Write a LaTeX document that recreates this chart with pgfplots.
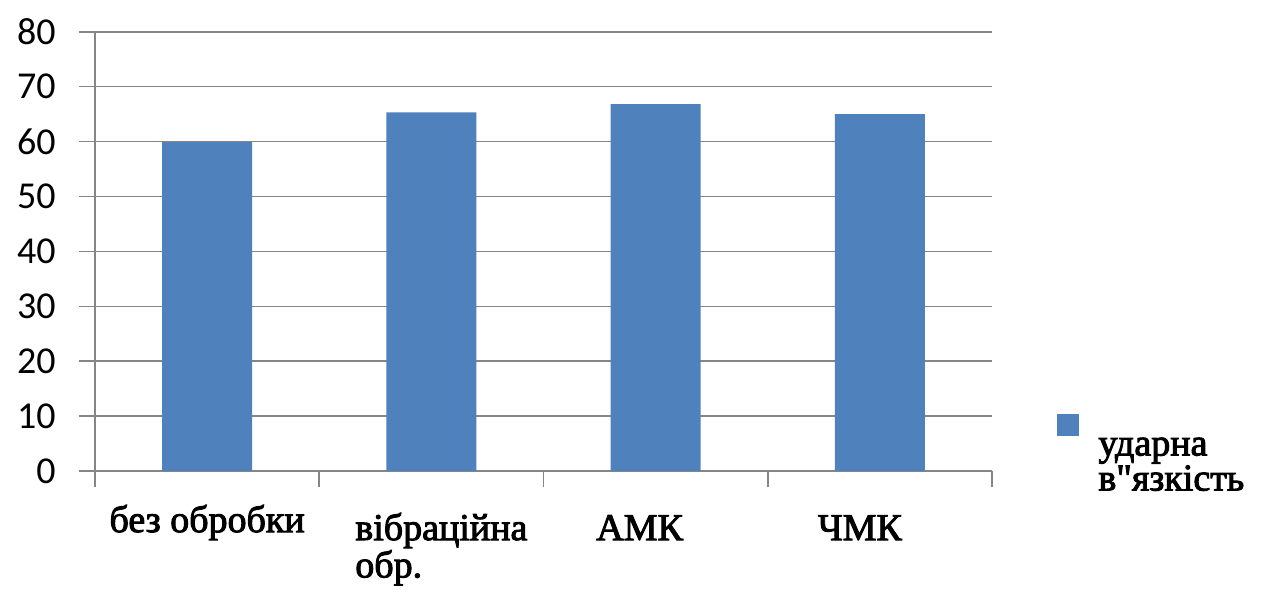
\documentclass[border=0pt]{standalone}
\usepackage{fontspec}
\setmainfont{Liberation Serif}
% bold serif label face, emboldened from the regular cut
\newfontfamily\tnrb{Liberation Serif}[FakeBold=2.5]
\newfontfamily\calibri{Carlito}
\usepackage{pgfplots}
\pgfplotsset{compat=1.18}
\definecolor{barblue}{RGB}{79,129,189}
\definecolor{gridgray}{RGB}{134,134,134}
\newcommand{\sz}{\fontsize{19}{17.5}\selectfont}

\begin{document}
\begin{tikzpicture}
\path[use as bounding box] (-47.5pt,-60pt) rectangle (584.5pt,235.55pt);
\begin{axis}[
  at={(0,0)}, anchor=origin,
  scale only axis,
  width=448.5pt, height=219.7pt,
  xmin=0.5, xmax=4.5,
  ymin=0, ymax=80,
  ytick={0,10,...,80},
  xtick={0.5,1.5,2.5,3.5,4.5},
  xticklabels={},
  extra x ticks={1,2,3,4},
  extra x tick labels={
    \raisebox{4pt}{\tnrb без обробки},
    \hspace*{10pt}{\tnrb\vtop{\hbox{вібраційна}\hbox{обр.}}},
    {\tnrb АМК}\hspace*{16pt},
    {\tnrb ЧМК}\hspace*{20pt}},
  extra x tick style={major tick length=0pt, grid=none},
  axis lines=left,
  axis line style={draw=gridgray, line width=0.8pt, -},
  ymajorgrids,
  grid style={draw=gridgray, line width=0.8pt},
  tick align=outside,
  major tick length=8pt,
  tick style={draw=gridgray, line width=0.8pt},
  /pgf/number format/assume math mode=true,
  yticklabel style={font=\calibri\fontsize{19}{20}\selectfont, inner sep=0pt, xshift=-11.5pt},
  xticklabel style={font=\sz, anchor=base, inner sep=0pt, yshift=-34.5pt},
  ybar, bar width=45pt,
  legend style={at={(axis description cs:1.0725,0.132)}, anchor=north west,
    draw=none, fill=none, inner sep=0pt, column sep=0pt,
    nodes={inner sep=0pt}, font=\sz,
    cells={anchor=base west}},
  legend image code/.code={
    \fill[barblue] (0pt,10pt) rectangle (11pt,21pt);
    \path (20.5pt,10pt);},
]
\addplot[fill=barblue, draw=none] coordinates {(1,59.9) (2,65.3) (3,66.8) (4,65.0)};
\addlegendentry{{\tnrb\vtop{\hbox{ударна}\hbox{в\symbol{34}язкість}}}}
\end{axis}
\end{tikzpicture}
\end{document}
